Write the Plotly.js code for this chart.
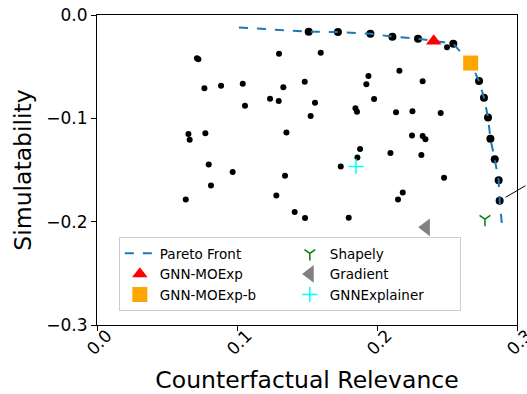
<!DOCTYPE html>
<html>
<head>
<meta charset="utf-8">
<script src="https://cdn.plot.ly/plotly-3.0.1.min.js"></script>
<style>html,body{margin:0;padding:0;background:#fff;}#chart{width:527px;height:394px;}</style>
</head>
<body>
<div id="chart"></div>
<script>
// Candidate explanations (small black dots)
const otherX = [0.0714, 0.0724, 0.1300, 0.1598, 0.0767, 0.0886, 0.1041, 0.1057, 0.1236, 0.1298,
                0.1331, 0.1484, 0.1557, 0.1526, 0.1353, 0.1939, 0.1924, 0.1979, 0.1846, 0.1857,
                0.2160, 0.2326, 0.2136, 0.2253, 0.2455, 0.2250, 0.2326, 0.2346, 0.1879, 0.1860,
                0.2096, 0.2317, 0.1741, 0.2479, 0.0653, 0.0662, 0.0774, 0.0798, 0.0814, 0.0969,
                0.1343, 0.1281, 0.0634, 0.2184, 0.2150, 0.1412, 0.1486, 0.1798, 0.2500];
const otherY = [-0.0419, -0.0429, -0.0374, -0.0365, -0.0710, -0.0684, -0.0665, -0.0878, -0.0810, -0.0833,
                -0.0700, -0.0646, -0.0849, -0.0978, -0.1136, -0.0591, -0.0671, -0.0813, -0.0903, -0.0936,
                -0.0539, -0.0642, -0.0942, -0.0932, -0.0949, -0.1165, -0.1171, -0.1203, -0.1297, -0.1378,
                -0.1336, -0.1355, -0.1465, -0.1575, -0.1152, -0.1207, -0.1145, -0.1446, -0.1649, -0.1520,
                -0.1556, -0.1746, -0.1785, -0.1717, -0.1785, -0.1907, -0.1965, -0.1962, -0.0313];

// Pareto-optimal explanations (larger black dots)
const paretoX = [0.1512, 0.1721, 0.1953, 0.2110, 0.2293, 0.2545, 0.2729, 0.2764, 0.2793, 0.2810, 0.2841, 0.2869, 0.2876];
const paretoY = [-0.0162, -0.0165, -0.0181, -0.0210, -0.0229, -0.0278, -0.0639, -0.0800, -0.0991, -0.1197, -0.1397, -0.1600, -0.1798];

// Pareto front curve vertices
const frontX = [0.1014, 0.1512, 0.1721, 0.1953, 0.2110, 0.2293, 0.2545, 0.2669, 0.2729, 0.2764, 0.2793, 0.2810, 0.2841, 0.2869, 0.2876, 0.2895];
const frontY = [-0.0120, -0.0162, -0.0165, -0.0181, -0.0210, -0.0229, -0.0278, -0.0465, -0.0639, -0.0800, -0.0991, -0.1197, -0.1397, -0.1600, -0.1798, -0.2065];

// Methods
const methodNames = ["GNN-MOExp", "GNN-MOExp-b", "Shapely", "Gradient", "GNNExplainer"];
const methodX = [0.2405, 0.2669, 0.2771, 0.2350, 0.1850];
const methodY = [-0.0252, -0.0465, -0.1975, -0.2055, -0.1465];

const F = "DejaVu Sans, Liberation Sans, sans-serif";

const traces = [
  {x: otherX, y: otherY, type: "scatter", mode: "markers", showlegend: false, hoverinfo: "skip",
   marker: {color: "black", size: 6}},
  {x: paretoX, y: paretoY, type: "scatter", mode: "markers", showlegend: false, hoverinfo: "skip",
   marker: {color: "black", size: 8}},
  {x: frontX, y: frontY, type: "scatter", mode: "lines", name: "Pareto Front", legendrank: 1,
   line: {color: "#1f77b4", width: 2, dash: "dash"}},
  {x: [methodX[0]], y: [methodY[0]], type: "scatter", mode: "markers", name: methodNames[0], legendrank: 3,
   marker: {symbol: "triangle-up", color: "#ff0000", size: 13.5}},
  {x: [methodX[1]], y: [methodY[1]], type: "scatter", mode: "markers", name: methodNames[1], legendrank: 5,
   marker: {symbol: "square", color: "#ffa500", size: 15}},
  {x: [methodX[2]], y: [methodY[2]], type: "scatter", mode: "markers", name: methodNames[2], legendrank: 2,
   marker: {symbol: "y-down-open", color: "#008000", size: 9, line: {color: "#008000", width: 1.5}}},
  {x: [methodX[3]], y: [methodY[3]], type: "scatter", mode: "markers", name: methodNames[3], legendrank: 4,
   marker: {symbol: "triangle-left", color: "#808080", size: 15.5}},
  {x: [methodX[4]], y: [methodY[4]], type: "scatter", mode: "markers", name: methodNames[4], legendrank: 6,
   marker: {symbol: "cross-thin-open", color: "#00ffff", size: 11, line: {color: "#00ffff", width: 1.5}}}
];

const layout = {
  width: 527, height: 394,
  margin: {l: 97, r: 10, t: 15, b: 69, pad: 0},
  paper_bgcolor: "white", plot_bgcolor: "white",
  font: {family: F, color: "black"},
  showlegend: true,
  xaxis: {
    range: [0, 0.3], dtick: 0.1, tick0: 0, tickformat: ".1f",
    showgrid: false, zeroline: false, showline: true, mirror: true, linecolor: "black", linewidth: 1,
    ticks: "outside", ticklen: 5, tickcolor: "black", tickangle: -45, ticklabelshift: 10, ticklabelstandoff: -12,
    ticklabeloverflow: "allow",
    tickfont: {family: F, size: 17, color: "black"},
    title: {text: "Counterfactual Relevance", font: {family: F, size: 23.5, color: "black"}, standoff: 18}
  },
  yaxis: {
    range: [-0.3, 0], dtick: 0.1, tick0: 0, tickformat: ".1f",
    showgrid: false, zeroline: false, showline: true, mirror: true, linecolor: "black", linewidth: 1,
    ticks: "outside", ticklen: 5, tickcolor: "black", ticklabeloverflow: "allow",
    tickfont: {family: F, size: 17, color: "black"},
    title: {text: "Simulatability", font: {family: F, size: 23.5, color: "black"}, standoff: 8}
  },
  legend: {
    orientation: "h", x: 0.052, y: 0.045, xanchor: "left", yanchor: "bottom",
    entrywidth: 125, bgcolor: "rgba(255,255,255,0.8)", bordercolor: "#cccccc", borderwidth: 1,
    font: {family: F, size: 13.5, color: "black"}, itemwidth: 30
  },
  annotations: [{
    x: paretoX[paretoX.length - 1], y: paretoY[paretoY.length - 1], xref: "x", yref: "y",
    text: "", showarrow: true, arrowhead: 0, arrowwidth: 1, arrowcolor: "black",
    ax: 60, ay: -16, standoff: 7
  }]
};

Plotly.newPlot("chart", traces, layout, {displayModeBar: false, staticPlot: true});
</script>
</body>
</html>
